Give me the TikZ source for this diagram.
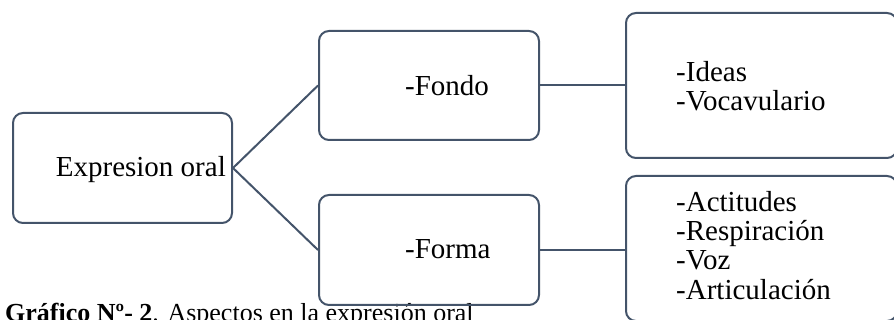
\documentclass[tikz,border=0pt]{standalone}
\usepackage{fontspec}
\setmainfont{Liberation Serif}
\definecolor{boxline}{HTML}{44546A}
\begin{document}
\begin{tikzpicture}[x=1pt,y=-1pt,
  box/.style={draw=boxline, line width=2pt, rounded corners=10pt, rectangle, inner sep=0pt},
  conn/.style={draw=boxline, line width=2pt},
  lbl/.style={inner sep=0pt, font=\fontsize{29}{29}\selectfont, anchor=base west},
  lst/.style={inner sep=0pt, font=\fontsize{29}{29}\selectfont, anchor=north west, align=left}]
\useasboundingbox (0,0) rectangle (894,320);
% caption
\node[inner sep=0pt, anchor=base west, font=\fontsize{26}{26}\selectfont] (cap) at (5,321)
  {\textbf{Gráfico Nº- 2}. Aspectos en la expresión oral};
% boxes
\node[box, minimum width=219pt, minimum height=110pt] (eo) at (122.5,168) {};
\node[box, minimum width=220pt, minimum height=109pt] (fondo) at (429,85.5) {};
\node[box, minimum width=220pt, minimum height=110pt] (forma) at (429,250) {};
\node[box, minimum width=271pt, minimum height=145pt] (ideas) at (761.5,85.5) {};
\node[box, minimum width=271pt, minimum height=145pt] (artic) at (761.5,248.5) {};
% texts
\node[lbl, anchor=base east] (teo) at (226,177) {Expresion oral};
\node[lbl] (tfondo) at (405,96) {-Fondo};
\node[lbl] (tforma) at (405,259) {-Forma};
\node[lbl] (t1) at (676,82) {-Ideas};
\node[lbl] (t2) at (676,111) {-Vocavulario};
\node[lbl] (t3) at (676,212) {-Actitudes};
\node[lbl] (t4) at (676,241) {-Respiración};
\node[lbl] (t5) at (676,270) {-Voz};
\node[lbl] (t6) at (676,299) {-Articulación};
% connectors
\draw[conn] (eo.east) -- (fondo.west);
\draw[conn] (eo.east) -- (forma.west);
\draw[conn] (fondo.east) -- (ideas.west);
\draw[conn] (forma.east) -- (forma.east -| artic.west);
\end{tikzpicture}
\end{document}
